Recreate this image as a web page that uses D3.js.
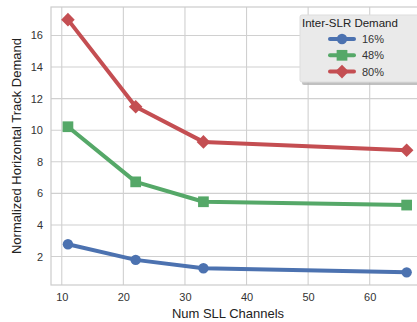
<!DOCTYPE html>
<html><head><meta charset="utf-8">
<script src="https://cdn.jsdelivr.net/npm/d3@7"></script>
<style>body{margin:0;background:#fff;} svg{display:block;font-family:"Liberation Sans",Arial,sans-serif;}</style>
</head><body>
<script>
const channels = [11, 22, 33, 66];
const seriesNames = ["16%", "48%", "80%"];
const demand16 = [2.78, 1.79, 1.26, 1.0];
const demand48 = [10.22, 6.73, 5.47, 5.26];
const demand80 = [17.0, 11.49, 9.26, 8.73];
const xTicks = [10, 20, 30, 40, 50, 60];
const yTicks = [2, 4, 6, 8, 10, 12, 14, 16];
const colors = ["#4C72B0", "#55A868", "#C44E52"];
const markers = ["circle", "square", "diamond"];
const legendTitle = "Inter-SLR Demand";
const xLabel = "Num SLL Channels";
const yLabel = "Normalized Horizontal Track Demand";

const W = 417, H = 322;
const L = 51, R = 423.6, T = 7, B = 285;
const svg = d3.select("body").append("svg").attr("width", W).attr("height", H);

const x = d3.scaleLinear().domain([8.25, 68.75]).range([L, R]);
const y = d3.scaleLinear().domain([0.2, 17.8]).range([B, T]);

const grid = svg.append("g");
xTicks.forEach(t => grid.append("line").attr("x1", x(t)).attr("x2", x(t)).attr("y1", T).attr("y2", B)
  .attr("stroke", "#d0d0d0").attr("stroke-width", 1.1));
yTicks.forEach(t => grid.append("line").attr("x1", L).attr("x2", R).attr("y1", y(t)).attr("y2", y(t))
  .attr("stroke", "#d0d0d0").attr("stroke-width", 1.1));
svg.append("rect").attr("x", L).attr("y", T).attr("width", R - L).attr("height", B - T)
  .attr("fill", "none").attr("stroke", "#cccccc").attr("stroke-width", 1.2);

const xAxis = d3.axisBottom(x).tickValues(xTicks).tickSize(0).tickPadding(8);
const gx = svg.append("g").attr("transform", `translate(0,${B})`).call(xAxis);
gx.select(".domain").remove();
gx.selectAll("text").attr("font-size", 11).attr("fill", "#333").attr("font-family", "Liberation Sans, Arial, sans-serif");

const yAxis = d3.axisLeft(y).tickValues(yTicks).tickSize(0).tickPadding(8);
const gy = svg.append("g").attr("transform", `translate(${L},0)`).call(yAxis);
gy.select(".domain").remove();
gy.selectAll("text").attr("font-size", 11).attr("fill", "#333").attr("font-family", "Liberation Sans, Arial, sans-serif");

svg.append("text").attr("x", 228).attr("y", 318).attr("text-anchor", "middle")
  .attr("font-size", 13).attr("fill", "#222").text(xLabel);
svg.append("text").attr("transform", `translate(21,${(T + B) / 2}) rotate(-90)`).attr("text-anchor", "middle")
  .attr("font-size", 13).attr("fill", "#222").text(yLabel);

const data = [demand16, demand48, demand80];
const symbolOf = m => m === "circle" ? d3.symbolCircle : d3.symbolSquare;
const sizeOf = m => m === "circle" ? 85 : m === "square" ? 115 : 92;
const rotOf = m => m === "diamond" ? 45 : 0;
const line = d3.line().x((d, i) => x(channels[i])).y(d => y(d));

const plot = svg.append("g");
data.forEach((vals, k) => {
  plot.append("path").attr("d", line(vals)).attr("fill", "none").attr("stroke", colors[k])
    .attr("stroke-width", 4).attr("stroke-linejoin", "round").attr("stroke-linecap", "round");
  vals.forEach((v, i) => {
    plot.append("path").attr("d", d3.symbol().type(symbolOf(markers[k])).size(sizeOf(markers[k]))())
      .attr("transform", `translate(${x(channels[i])},${y(v)}) rotate(${rotOf(markers[k])})`).attr("fill", colors[k]);
  });
});

// legend
const lg = svg.append("g");
lg.append("rect").attr("x", 302).attr("y", 17).attr("width", 130).attr("height", 68).attr("rx", 2)
  .attr("fill", "#b0b0b0").attr("opacity", 0.8);
lg.append("rect").attr("x", 300).attr("y", 15).attr("width", 130).attr("height", 67).attr("rx", 2)
  .attr("fill", "#eaeaea").attr("stroke", "#dddddd");
lg.append("text").attr("x", 302).attr("y", 27).attr("font-size", 11.5).attr("fill", "#222").text(legendTitle);
seriesNames.forEach((n, k) => {
  const yy = 39 + k * 16.3;
  lg.append("line").attr("x1", 330).attr("x2", 354).attr("y1", yy).attr("y2", yy)
    .attr("stroke", colors[k]).attr("stroke-width", 4).attr("stroke-linecap", "round");
  lg.append("path").attr("d", d3.symbol().type(symbolOf(markers[k])).size(sizeOf(markers[k]))())
    .attr("transform", `translate(342,${yy}) rotate(${rotOf(markers[k])})`).attr("fill", colors[k]);
  lg.append("text").attr("x", 362).attr("y", yy + 4).attr("font-size", 11).attr("fill", "#333").text(n);
});
</script>
</body></html>
